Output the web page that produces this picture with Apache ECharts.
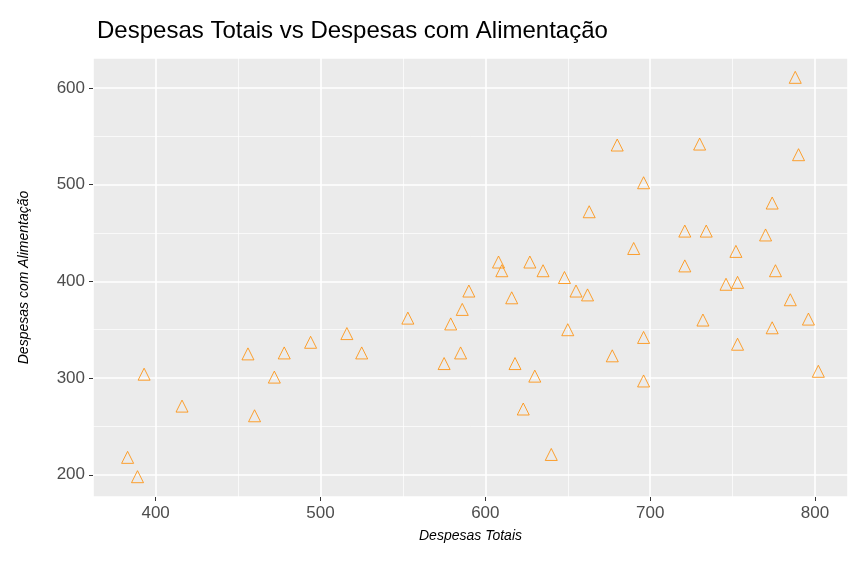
<!DOCTYPE html>
<html>
<head>
<meta charset="utf-8">
<script src="https://cdn.jsdelivr.net/npm/echarts@6/dist/echarts.min.js"></script>
<style>html,body{margin:0;padding:0;background:#fff}#chart{width:864px;height:576px}</style>
</head>
<body>
<div id="chart"></div>
<script>
// Despesas Totais (x) vs Despesas com Alimentação (y)
const despesasTotais = [383, 389, 393, 416, 456, 460, 472, 478, 494, 516, 525, 553, 575, 579, 585, 586, 590, 608, 610, 616, 618, 623, 627, 630, 635, 640, 648, 650, 655, 662, 663, 677, 680, 690, 696, 696, 696, 721, 721, 730, 732, 734, 746, 752, 753, 753, 770, 774, 774, 776, 785, 788, 790, 796, 802];
const despesasAlimentacao = [218, 198, 304, 271, 325, 261, 301, 326, 337, 346, 326, 362, 315, 356, 326, 371, 390, 420, 411, 383, 315, 268, 420, 302, 411, 221, 404, 350, 390, 386, 472, 323, 541, 434, 502, 342, 297, 452, 416, 542, 360, 452, 397, 431, 399, 335, 448, 481, 352, 411, 381, 611, 531, 361, 307];
const minorX = [450, 550, 650, 750];
const minorY = [250, 350, 450, 550];

const pontos = despesasTotais.map((x, i) => [x, despesasAlimentacao[i]]);

const chart = echarts.init(document.getElementById('chart'));

const eixoComum = {
  axisLine: { show: false },
  axisTick: { show: true, length: 4, lineStyle: { color: '#333' } },
  axisLabel: { color: '#4D4D4D', fontSize: 17, fontFamily: 'Liberation Sans', showMinLabel: false, showMaxLabel: false },
  splitLine: { show: true, lineStyle: { color: '#fff', width: 1.6 } },
  minInterval: 100,
  maxInterval: 100,
  nameLocation: 'middle',
  nameTextStyle: { color: '#000', fontSize: 14, fontStyle: 'italic', fontFamily: 'Liberation Sans' }
};

const linhasMenores = minorX.map(v => ({ xAxis: v })).concat(minorY.map(v => ({ yAxis: v })));

chart.setOption({
  backgroundColor: '#fff',
  title: {
    text: 'Despesas Totais vs Despesas com Alimentação',
    left: 92, top: 14,
    textStyle: { fontSize: 24, fontWeight: 'normal', color: '#000', fontFamily: 'Liberation Sans' }
  },
  grid: { left: 93, right: 16, top: 58, bottom: 79, backgroundColor: '#EBEBEB', show: true, borderWidth: 0 },
  xAxis: Object.assign({}, eixoComum, {
    type: 'value', min: 362, max: 820,
    name: 'Despesas Totais', nameGap: 32
  }),
  yAxis: Object.assign({}, eixoComum, {
    type: 'value', min: 177, max: 631,
    name: 'Despesas com Alimentação', nameGap: 62
  }),
  series: [{
    type: 'scatter',
    data: pontos,
    symbol: 'triangle',
    symbolSize: 12,
    itemStyle: { color: 'rgba(0,0,0,0)', borderColor: '#FF8C00', borderWidth: 1 },
    z: 3,
    markLine: {
      silent: true, symbol: 'none', label: { show: false }, z: 1,
      lineStyle: { color: '#fff', width: 0.7, type: 'solid' },
      data: linhasMenores
    }
  }]
});
</script>
</body>
</html>
